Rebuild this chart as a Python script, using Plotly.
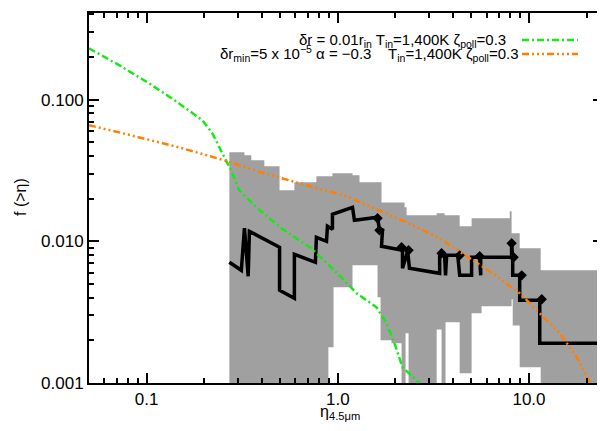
import plotly.graph_objects as go

# ---------------- data ----------------
green_x = [0.05, 0.0719, 0.1033, 0.140, 0.196, 0.221, 0.249, 0.277, 0.305, 0.380, 0.507,
           0.727, 1.02, 1.253, 1.595, 1.80, 1.98, 2.18, 2.68]
green_y = [0.230, 0.175, 0.130, 0.099, 0.0714, 0.0578, 0.0418, 0.0317, 0.0229, 0.0171, 0.01236,
           0.00893, 0.00575, 0.00430, 0.00342, 0.00264, 0.00190, 0.00129, 0.00100]

orange_x = [0.05, 0.0719, 0.148, 0.255, 0.380, 0.573, 0.851, 1.084, 1.52, 2.29, 3.41, 4.50,
            6.46, 8.94, 11.4, 14.5, 17.8, 20.8]
orange_y = [0.0659, 0.0587, 0.0460, 0.0373, 0.0312, 0.0265, 0.0229, 0.0211, 0.0174, 0.0136,
            0.0105, 0.00822, 0.00594, 0.00430, 0.00310, 0.00224, 0.00152, 0.00101]

obs_x = [0.271, 0.313, 0.325, 0.340, 0.345, 0.496, 0.496, 0.593, 0.593, 0.764, 0.773, 0.873,
         0.883, 0.938, 0.938, 1.194, 1.222, 1.614, 1.652, 1.713, 1.693, 2.18, 2.18, 2.32, 2.37,
         3.41, 3.41, 3.62, 3.66, 3.71, 4.24, 4.34, 5.01, 5.01, 5.52, 5.59, 5.59, 8.11, 8.11,
         8.22, 8.22, 8.94, 8.94, 11.38, 11.38, 23.45]
obs_y = [0.00711, 0.00624, 0.01236, 0.00566, 0.01177, 0.00907, 0.00451, 0.00396, 0.00810,
         0.00711, 0.01067, 0.0100, 0.01276, 0.01216, 0.01552, 0.01738, 0.01406, 0.01477,
         0.01196, 0.01196, 0.00922, 0.00864, 0.00645, 0.00850, 0.00645, 0.00594, 0.00796,
         0.00796, 0.00575, 0.00796, 0.00796, 0.00575, 0.00575, 0.00771, 0.00771, 0.00575,
         0.00771, 0.00771, 0.00968, 0.00771, 0.00575, 0.00575, 0.00383, 0.00383, 0.00191,
         0.00191]

mark_x = [1.614, 1.652, 2.156, 2.345, 3.49, 4.34, 5.52, 8.11, 8.31, 9.16, 11.66, 23.7]
mark_y = [0.01453, 0.01196, 0.00907, 0.00864, 0.00823, 0.00796, 0.00784, 0.00968, 0.00771,
          0.00575, 0.00390, 0.00191]

band_hi_edges = [0.271, 0.325, 0.353, 0.413, 0.496, 0.593, 0.773, 0.938, 1.194, 1.299, 1.693,
                 2.234, 2.29, 3.29, 3.62, 4.34, 5.01, 7.93, 8.11, 8.94, 11.51, 24.4]
band_hi = [0.0425, 0.0404, 0.0373, 0.0338, 0.0229, 0.0261, 0.0288, 0.0302, 0.0292, 0.0261,
           0.0188, 0.01738, 0.01526, 0.01577, 0.01526, 0.01276, 0.01453, 0.0163, 0.01138,
           0.00893, 0.00624]
band_lo_edges = [0.271, 0.893, 0.950, 1.194, 1.614, 1.674, 1.910, 2.156, 2.262, 2.345, 3.29,
                 3.49, 3.66, 4.34, 5.01, 5.65, 8.11, 8.22, 8.94, 11.51, 24.4]
band_lo = [0.001, 0.00179, 0.00473, 0.00677, 0.00403, 0.00200, 0.00191, 0.001, 0.00224, 0.001,
           0.00239, 0.001, 0.00268, 0.00117, 0.00310, 0.00348, 0.00390, 0.00255, 0.00129, 0.001]

x_tickvals = [0.1, 1.0, 10.0]
x_ticktext = ["0.1", "1.0", "10.0"]
y_tickvals = [0.001, 0.01, 0.1]
y_ticktext = ["0.001", "0.010", "0.100"]

legend1 = "δr = 0.01r<sub>in</sub> T<sub>in</sub>=1,400K ζ<sub>poll</sub>=0.3"
legend2 = "δr<sub>min</sub>=5 x 10<sup>−5</sup> α = −0.3\u00a0\u00a0\u00a0 T<sub>in</sub>=1,400K ζ<sub>poll</sub>=0.3"

# ---------------- build ----------------
def steps(edges, vals):
    xs, ys = [], []
    for i, v in enumerate(vals):
        xs += [edges[i], edges[i + 1]]
        ys += [v, v]
    return xs, ys

hx, hy = steps(band_hi_edges, band_hi)
lx, ly = steps(band_lo_edges, band_lo)
poly_x = hx + lx[::-1]
poly_y = hy + ly[::-1]

GREEN = "#18e818"
ORANGE = "#ff8000"
GREY = "#a0a0a0"
FONT = "Liberation Sans, Arial, sans-serif"

fig = go.Figure()
fig.add_trace(go.Scatter(x=poly_x, y=poly_y, fill="toself", fillcolor=GREY,
                         line=dict(width=0), mode="lines", hoverinfo="skip"))
fig.add_trace(go.Scatter(x=obs_x, y=obs_y, mode="lines",
                         line=dict(color="black", width=3.5)))
fig.add_trace(go.Scatter(x=mark_x, y=mark_y, mode="markers",
                         marker=dict(symbol="diamond", size=8, color="black")))
fig.add_trace(go.Scatter(x=green_x, y=green_y, mode="lines",
                         line=dict(color=GREEN, width=2.5, dash="7px,3px,2px,3px")))
fig.add_trace(go.Scatter(x=orange_x, y=orange_y, mode="lines",
                         line=dict(color=ORANGE, width=2.5,
                                   dash="7px,3px,2px,3px,2px,3px,2px,3px")))

def minors(lo_exp, hi_exp):
    out = []
    for e in range(lo_exp, hi_exp + 1):
        for m in range(2, 10):
            out.append(m * 10 ** e)
    return out

axis_common = dict(type="log", showgrid=False, zeroline=False, showline=True,
                   linecolor="black", linewidth=2, mirror="ticks", ticks="inside",
                   ticklen=10, tickwidth=1.5, tickcolor="black",
                   tickfont=dict(family=FONT, size=17, color="black"))

fig.update_xaxes(**axis_common, range=[-1.301, 1.387], tickvals=x_tickvals,
                 ticktext=x_ticktext,
                 minor=dict(tickvals=minors(-2, 1), ticks="inside", ticklen=5,
                            tickwidth=1.5, tickcolor="black", showgrid=False))
fig.update_yaxes(**axis_common, range=[-3, -0.389], tickvals=y_tickvals,
                 ticktext=y_ticktext,
                 minor=dict(tickvals=minors(-3, -1), ticks="inside", ticklen=5,
                            tickwidth=1.5, tickcolor="black", showgrid=False))

# page body has an 8px margin; plot area targets x 89..603, y 13..383 on screen
OFF = 8
ML, MR, MT, MB = 89 - OFF, 2, 13 - OFF, 48
FW, FH = 605 - OFF, 431 - OFF
W0, H0 = FW - ML - MR, FH - MT - MB

def px(x):
    return (x - 89) / W0
def py(y):
    return 1 - (y - 13) / H0

annos = [
    dict(text=legend1, x=px(508), y=py(40), xanchor="right", yanchor="middle", size=15),
    dict(text=legend2, x=px(521), y=py(54), xanchor="right", yanchor="middle", size=15),
    dict(text="f (>η)", x=px(20), y=py(197), textangle=-90, xanchor="center",
         yanchor="middle", size=16),
    dict(text="η<sub>4.5μm</sub>", x=px(340), y=py(412), xanchor="center",
         yanchor="middle", size=16),
]
for a in annos:
    s = a.pop("size")
    fig.add_annotation(xref="paper", yref="paper", showarrow=False,
                       font=dict(family=FONT, size=s, color="black"), **a)

fig.add_shape(type="line", xref="paper", yref="paper", x0=px(522), x1=px(578),
              y0=py(40), y1=py(40), line=dict(color=GREEN, width=2.5,
                                              dash="7px,3px,2px,3px"))
fig.add_shape(type="line", xref="paper", yref="paper", x0=px(522), x1=px(578),
              y0=py(54), y1=py(54), line=dict(color=ORANGE, width=2.5,
                                              dash="7px,3px,2px,3px,2px,3px,2px,3px"))

fig.update_layout(width=FW, height=FH, margin=dict(l=ML, r=MR, t=MT, b=MB, autoexpand=False),
                  paper_bgcolor="white", plot_bgcolor="white", showlegend=False,
                  font=dict(family=FONT, size=16, color="black"))

fig.write_html("out.html")
